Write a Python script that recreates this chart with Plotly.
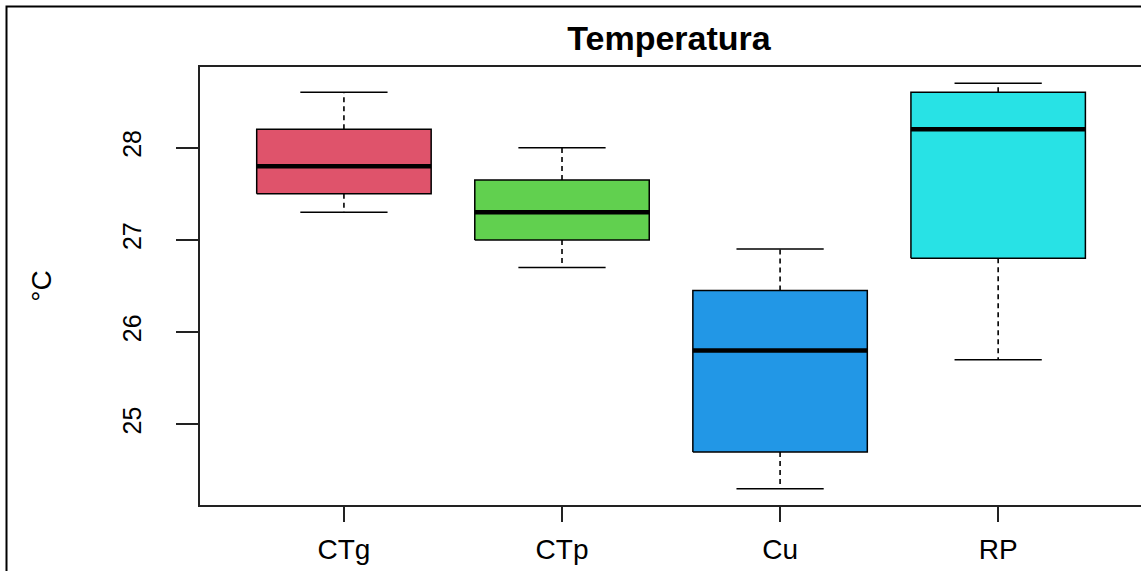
import plotly.graph_objects as go

categories = ["CTg", "CTp", "Cu", "RP"]
lower_whisker = [27.3, 26.7, 24.3, 25.7]
q1 = [27.5, 27.0, 24.7, 26.8]
median = [27.8, 27.3, 25.8, 28.2]
q3 = [28.2, 27.65, 26.45, 28.6]
upper_whisker = [28.6, 28.0, 26.9, 28.7]
colors = ["#DF536B", "#61D04F", "#2297E6", "#28E2E5"]
y_ticks = [25, 26, 27, 28]

BOX_HALF = 0.4
CAP_HALF = 0.2

fig = go.Figure()
for i, cat in enumerate(categories):
    x = i + 1
    # whiskers (dashed)
    fig.add_trace(go.Scatter(x=[x, x, None, x, x],
                             y=[q3[i], upper_whisker[i], None, q1[i], lower_whisker[i]],
                             mode="lines", line=dict(color="black", width=1.6, dash="5px,4px"),
                             showlegend=False, hoverinfo="skip"))
    # caps
    fig.add_trace(go.Scatter(x=[x - CAP_HALF, x + CAP_HALF, None, x - CAP_HALF, x + CAP_HALF],
                             y=[upper_whisker[i], upper_whisker[i], None, lower_whisker[i], lower_whisker[i]],
                             mode="lines", line=dict(color="black", width=1.5),
                             showlegend=False, hoverinfo="skip"))
    # box
    fig.add_trace(go.Scatter(x=[x - BOX_HALF, x + BOX_HALF, x + BOX_HALF, x - BOX_HALF, x - BOX_HALF],
                             y=[q1[i], q1[i], q3[i], q3[i], q1[i]],
                             mode="lines", fill="toself", fillcolor=colors[i],
                             line=dict(color="black", width=1.5),
                             name=cat, showlegend=False))
    # median
    fig.add_trace(go.Scatter(x=[x - BOX_HALF, x + BOX_HALF], y=[median[i], median[i]],
                             mode="lines", line=dict(color="black", width=4.5),
                             showlegend=False, hoverinfo="skip"))

L, T, B = 200, 67, 66
W, H = 1141, 571
pw = W - L
ph = H - T - B

def px_x(p):
    return (p - L) / pw

def px_y(p):
    return (H - B - p) / ph

fig.add_shape(type="rect", xref="paper", yref="paper",
              x0=px_x(6.5), x1=px_x(1160), y0=px_y(6.5), y1=px_y(590),
              line=dict(color="black", width=2), fillcolor="rgba(0,0,0,0)")

fig.update_layout(
    width=W, height=H,
    margin=dict(l=L, r=0, t=T, b=B, pad=0),
    plot_bgcolor="white", paper_bgcolor="white",
    font=dict(family="Liberation Sans, Arial, sans-serif", color="black"),
    title=dict(text="<b>Temperatura</b>", x=px_x(669), xref="paper", xanchor="center",
               y=1 - 38 / H, yanchor="middle", font=dict(size=34, color="black")),
    xaxis=dict(range=[0.34, 4.655], tickvals=[1, 2, 3, 4], ticktext=categories,
               showgrid=False, zeroline=False, showline=True, mirror=True,
               linecolor="#222", linewidth=1.5, ticks="outside", ticklen=15,
               tickwidth=1.5, tickcolor="#222", tickfont=dict(size=28),
               ticklabelstandoff=4),
    yaxis=dict(range=[24.125, 28.875], tickvals=y_ticks, showgrid=False, zeroline=False,
               showline=True, linecolor="#222", linewidth=1.5, ticks="outside",
               ticklen=22, tickwidth=1.5, tickcolor="#222", tickangle=-90,
               tickfont=dict(size=25), ticklabelstandoff=25,
               title=dict(text="°C", font=dict(size=28), standoff=58)),
)

fig.write_html("out.html", config={"displayModeBar": False},
               post_script="document.body.style.margin='0px';document.body.style.padding='0px';")
